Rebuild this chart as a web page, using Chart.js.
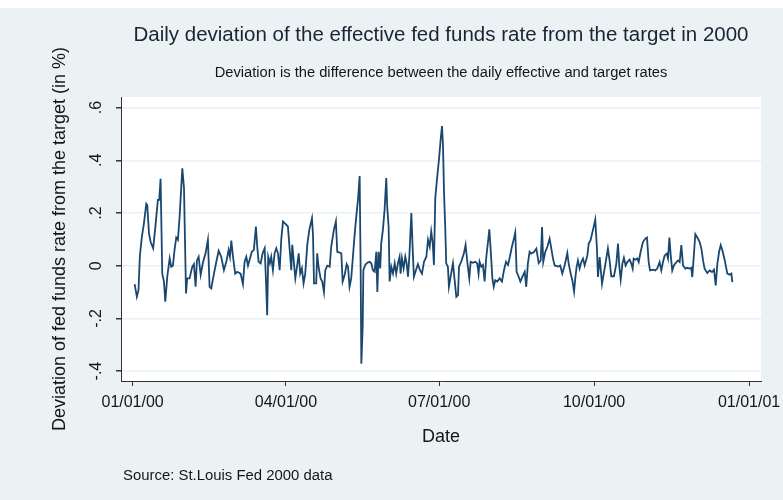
<!DOCTYPE html>
<html><head><meta charset="utf-8">
<script src="https://cdn.jsdelivr.net/npm/chart.js@4.4.1/dist/chart.umd.min.js"></script>
<style>html,body{margin:0;padding:0;background:#eaf2f3;overflow:hidden}#wrap{width:783px;height:500px;position:relative}</style>
</head><body><div id="wrap"><canvas id="c" width="783" height="500"></canvas></div>
<script>
// Days since 01/01/2000 of each plotted observation
const dayOffsets = [1.2,2.5,3.5,4.3,5.5,6.7,8.1,8.7,9.7,10.7,12.2,13.4,15.0,15.8,16.6,17.6,18.6,19.4,20.6,22.0,22.9,23.9,24.9,25.9,26.9,27.9,28.9,29.5,30.5,31.7,32.4,33.8,35.4,36.4,37.4,38.2,39.2,40.4,41.7,43.3,44.7,45.7,46.7,48.3,49.7,51.1,52.6,54.2,55.8,57.0,57.8,58.6,59.6,60.9,62.1,64.1,65.5,66.5,67.5,68.5,69.7,70.8,72.0,73.2,74.0,74.8,76.0,77.2,78.4,79.2,79.9,80.5,81.5,82.3,83.3,84.3,85.3,86.3,87.3,88.3,89.3,90.6,92.2,93.2,94.2,94.8,95.8,96.6,97.6,98.6,99.5,100.5,101.5,102.5,103.7,104.9,106.5,107.1,107.7,109.0,109.6,110.4,111.6,112.6,113.6,114.4,115.6,117.0,117.9,119.5,120.7,121.5,122.9,123.9,124.7,125.9,127.1,127.9,128.8,129.8,130.8,131.8,132.8,133.8,134.8,135.4,135.8,136.6,137.0,138.1,139.3,140.7,141.7,142.7,143.7,144.7,145.3,146.1,147.0,147.6,148.6,149.6,150.6,151.2,152.0,152.6,153.6,154.6,155.6,156.5,157.5,158.5,159.1,159.9,160.9,161.9,162.7,163.5,164.3,165.5,166.3,167.0,168.2,169.4,170.6,171.8,173.0,174.4,175.4,176.4,177.3,178.2,178.9,179.7,180.9,181.9,182.9,183.7,184.3,184.9,185.6,186.2,187.2,187.8,188.8,190.2,191.2,192.2,193.2,193.8,195.1,196.7,197.7,198.7,199.9,200.7,202.1,203.5,204.6,205.4,206.0,207.0,208.0,209.0,210.0,211.0,211.8,212.6,213.6,214.4,215.3,216.5,217.9,219.3,220.5,221.7,222.9,224.0,225.2,226.2,227.2,228.0,229.2,230.2,231.4,232.8,233.7,234.7,235.7,236.7,238.3,239.7,241.1,242.3,243.1,243.8,245.0,246.2,247.6,248.6,249.6,250.6,252.6,253.9,255.1,256.5,258.1,258.9,260.1,261.1,262.1,262.8,263.6,264.4,265.4,266.4,267.4,268.4,270.0,270.8,271.9,273.3,274.7,275.7,276.3,277.3,278.7,279.9,280.9,282.2,283.2,284.2,285.8,287.2,288.2,289.0,289.8,290.8,291.7,292.7,293.7,295.1,296.1,296.9,297.5,298.5,299.7,300.5,301.6,303.0,304.4,305.4,306.4,307.2,309.0,310.3,311.5,312.9,313.9,314.9,315.9,317.1,317.9,318.7,319.5,320.4,321.4,322.4,323.8,324.8,325.8,326.8,328.2,329.3,330.7,331.7,332.3,333.3,334.1,335.3,336.7,337.7,338.7,339.6,341.2,342.6,344.0,345.2,346.2,347.2,348.2,349.2,350.2,351.6,353.1,354.5,355.5,356.1];
// Deviation of effective fed funds rate from target (percentage points)
const deviation = [-0.07,-0.118,-0.093,0.037,0.11,0.16,0.235,0.23,0.123,0.09,0.066,0.14,0.25,0.25,0.33,-0.03,-0.06,-0.137,-0.04,0.028,-0.004,0.0,0.06,0.107,0.098,0.187,0.3,0.37,0.295,-0.105,-0.048,-0.048,-0.004,0.006,-0.08,0.02,0.034,-0.035,0.01,0.047,0.098,-0.08,-0.086,-0.03,0.015,0.057,0.034,-0.017,0.02,0.06,0.034,0.095,0.034,-0.03,-0.023,-0.03,-0.07,0.015,0.034,0.0,0.028,0.053,0.06,0.149,0.072,0.015,0.009,0.047,0.066,-0.06,-0.188,0.034,0.009,0.034,-0.017,0.047,0.066,0.047,-0.017,0.104,0.168,0.16,0.149,0.066,-0.017,0.079,0.009,-0.048,-0.004,0.047,-0.03,-0.01,-0.067,-0.03,0.079,0.136,0.18,0.117,-0.067,-0.067,0.047,-0.004,-0.048,-0.06,-0.1,-0.017,0.0,-0.004,0.072,0.136,0.168,0.053,0.05,0.047,-0.06,-0.035,0.006,-0.004,-0.08,-0.048,0.034,0.117,0.187,0.25,0.34,-0.017,-0.372,-0.233,-0.017,0.003,0.011,0.015,0.009,-0.017,-0.023,0.053,-0.1,0.053,-0.01,0.085,0.136,0.212,0.333,0.22,0.149,-0.06,-0.004,-0.03,0.009,-0.03,0.009,0.034,-0.03,0.028,-0.01,0.034,0.009,-0.042,0.034,0.2,0.06,-0.042,-0.017,0.006,-0.017,-0.03,0.015,0.034,0.098,0.072,0.13,0.085,0.003,0.257,0.34,0.403,0.48,0.53,0.454,0.276,0.149,0.009,-0.004,-0.08,-0.042,0.009,-0.055,-0.118,-0.112,-0.004,0.015,0.047,0.079,0.015,-0.048,0.015,0.011,0.015,0.009,-0.03,0.015,-0.004,0.003,-0.06,0.034,0.09,0.138,0.06,-0.048,-0.08,-0.055,-0.06,-0.048,-0.06,-0.017,0.015,0.003,0.034,0.072,0.098,0.126,-0.023,-0.042,-0.06,-0.042,-0.023,-0.08,0.009,0.053,0.046,0.052,0.065,0.01,0.02,0.147,0.014,0.052,0.071,0.103,0.065,0.027,0.001,-0.003,0.001,-0.03,0.001,0.048,0.008,-0.03,-0.056,-0.098,-0.05,-0.005,0.02,-0.011,0.014,0.027,0.001,0.039,0.084,0.097,0.135,0.175,0.065,-0.043,0.033,-0.069,-0.024,0.014,0.065,0.02,-0.04,-0.04,0.008,0.084,-0.005,-0.053,0.008,0.03,0.001,0.014,0.023,0.008,-0.011,0.027,0.023,0.027,0.014,0.052,0.09,0.103,0.107,0.014,-0.018,-0.015,-0.018,-0.011,0.014,-0.018,0.014,0.039,0.046,0.027,0.107,0.039,-0.018,0.001,0.01,0.02,0.014,0.078,0.001,-0.011,-0.008,-0.011,-0.008,-0.043,0.046,0.12,0.107,0.09,0.065,0.02,-0.011,-0.028,-0.018,-0.024,-0.015,-0.075,0.008,0.052,0.078,0.058,0.02,-0.03,-0.034,-0.03,-0.062];
const xTickDays = [0, 91, 182, 274, 366];
const xTickLabels = ['01/01/00', '04/01/00', '07/01/00', '10/01/00', '01/01/01'];
const yTickValues = [-0.4, -0.2, 0, 0.2, 0.4, 0.6];
const yTickLabels = ['-.4', '-.2', '0', '.2', '.4', '.6'];

const FAM = "'Liberation Sans', Arial, sans-serif";
const BG = '#eaf2f3';
const AXIS = '#333333';
const TXT = '#161616';

const pts = dayOffsets.map((d, i) => ({x: d, y: deviation[i]}));

const bgPlugin = {
  id: 'bg',
  beforeDraw(chart) {
    const {ctx, chartArea: a, width, height} = chart;
    ctx.save();
    ctx.fillStyle = BG; ctx.fillRect(0, 0, width, height);
    ctx.fillStyle = '#ffffff'; ctx.fillRect(0, 0, width, 8);
    ctx.fillRect(a.left, a.top, a.right - a.left, a.bottom - a.top);
    ctx.restore();
  },
  afterDraw(chart) {
    const {ctx} = chart;
    ctx.save();
    ctx.font = '14.9px ' + FAM;
    ctx.fillStyle = TXT;
    ctx.textBaseline = 'middle';
    ctx.textAlign = 'left';
    ctx.fillText('Source: St.Louis Fed 2000 data', 123, 476);
    ctx.restore();
  }
};

new Chart(document.getElementById('c'), {
  type: 'line',
  data: { datasets: [{ data: pts, borderColor: '#1a476f', borderWidth: 1.8, pointRadius: 0, tension: 0, fill: false }] },
  options: {
    responsive: false, animation: false, devicePixelRatio: 1,
    layout: { padding: 0 },
    plugins: {
      legend: { display: false }, tooltip: { enabled: false },
      title: { display: true, fullSize: false, text: 'Daily deviation of the effective fed funds rate from the target in 2000',
        font: { family: FAM, size: 20.5, weight: 'normal' }, color: '#1a2433', padding: { top: 22.7, bottom: 0 } },
      subtitle: { display: true, fullSize: false, text: 'Deviation is the difference between the daily effective and target rates',
        font: { family: FAM, size: 14.7, weight: 'normal' }, color: TXT, padding: { top: 16.9, bottom: 15.2 } }
    },
    scales: {
      x: {
        type: 'linear', min: -6.9, max: 373.1,
        afterBuildTicks: s => { s.ticks = xTickDays.map(v => ({value: v})); },
        afterFit: s => { s.height = 119; s.paddingRight = 22; s.paddingLeft = 0; },
        ticks: { autoSkip: false, maxRotation: 0, padding: 7, color: TXT, font: { family: FAM, size: 16 },
          callback: v => { const i = xTickDays.indexOf(v); return i >= 0 ? xTickLabels[i] : ''; } },
        grid: { drawOnChartArea: false, tickLength: 5, tickColor: AXIS, color: AXIS },
        border: { display: true, color: AXIS, width: 1 },
        title: { display: true, text: 'Date', color: TXT, font: { family: FAM, size: 18 }, padding: { top: 0, bottom: 52.2 } }
      },
      y: {
        type: 'linear', min: -0.4376, max: 0.6402,
        afterBuildTicks: s => { s.ticks = yTickValues.map(v => ({value: v})); },
        afterFit: s => { s.width = 121; s.paddingTop = 0; s.paddingBottom = 0; },
        ticks: { minRotation: 90, maxRotation: 90, crossAlign: 'center', padding: 10, color: TXT, font: { family: FAM, size: 16 },
          callback: v => { const i = yTickValues.findIndex(t => Math.abs(t - v) < 1e-9); return i >= 0 ? yTickLabels[i] : ''; } },
        grid: { color: BG, lineWidth: 1.5, tickColor: AXIS, tickLength: 5 },
        border: { display: true, color: AXIS, width: 1 },
        title: { display: true, text: 'Deviation of fed funds rate from the target (in %)', color: TXT,
          font: { family: FAM, size: 18 }, padding: { top: 49.2, bottom: 0 } }
      }
    }
  },
  plugins: [bgPlugin]
});
</script></body></html>
